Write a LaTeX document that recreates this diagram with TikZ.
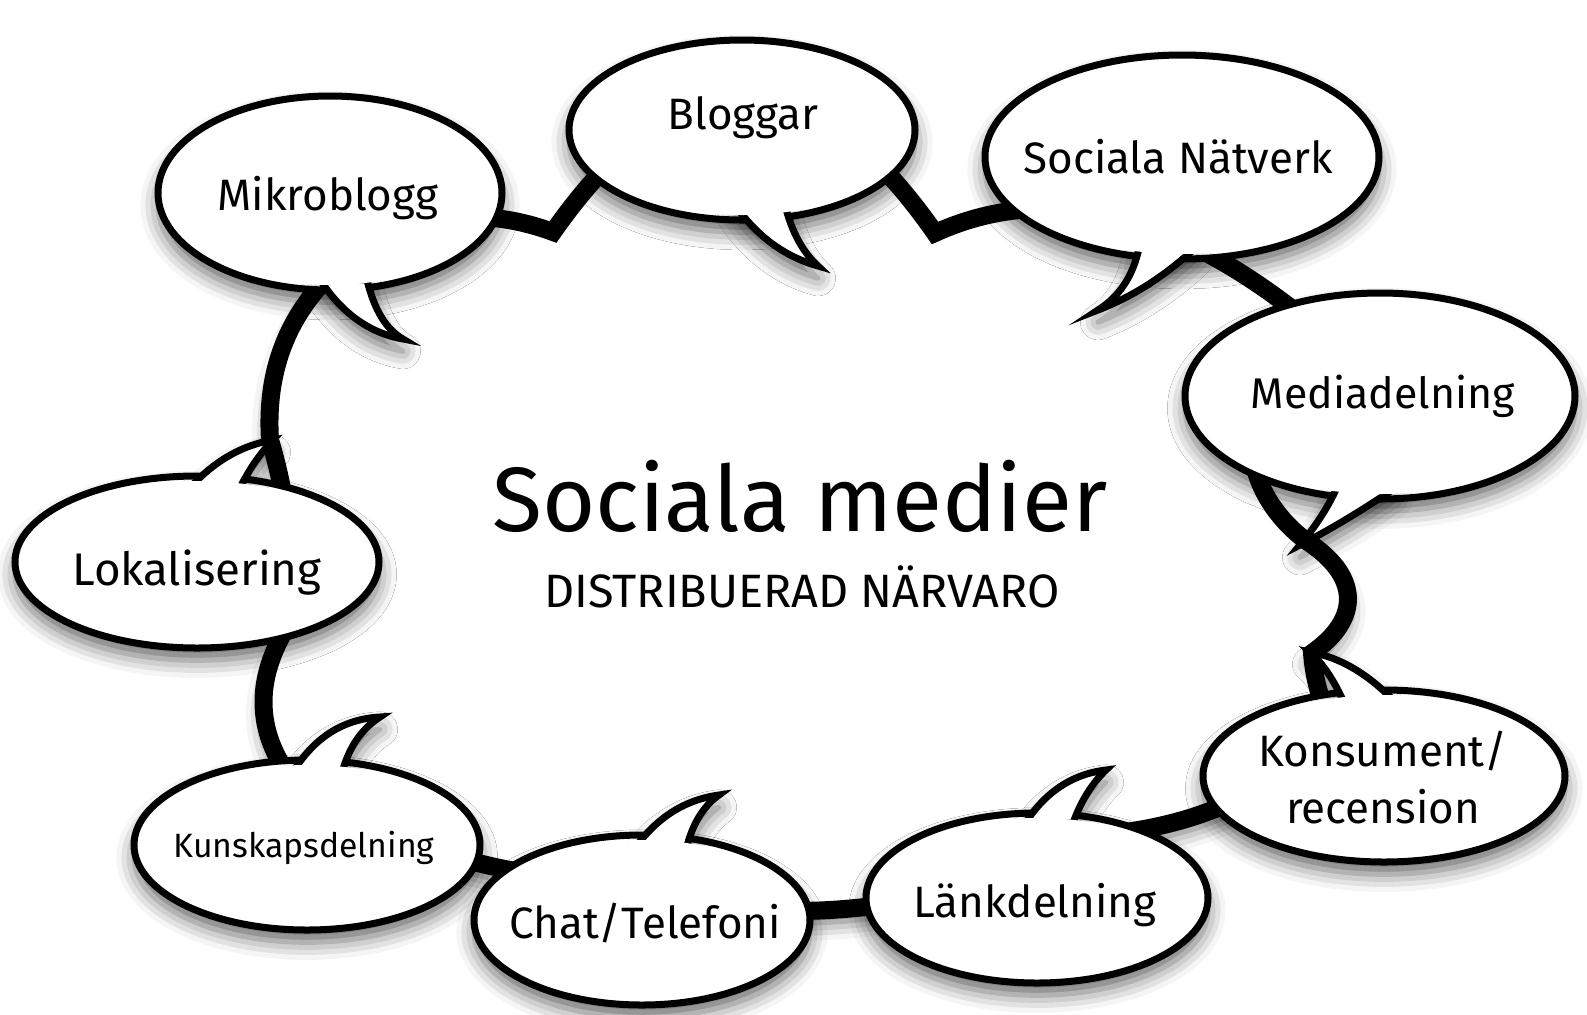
\documentclass[tikz,border=0pt]{standalone}
\usepackage{fontspec}
\setmainfont{Fira Sans}
\usetikzlibrary{calc, shadows.blur}

\tikzset{
  softshadow/.style={blur shadow={shadow xshift=0pt, shadow yshift=-3.5pt, shadow blur radius=5pt, shadow opacity=60}},
  cloudline/.style={line width=0.18cm, fill=white, softshadow},
  bubbleedge/.style={line width=0.07cm, fill=white},
  bubbletext/.style={font=\fontsize{12.5}{16}\selectfont, anchor=base, inner sep=0pt},
}

\begin{document}
\begin{tikzpicture}[x=0.01cm, y=-0.01cm]
  \useasboundingbox (0,0) rectangle (1587,1014);

  % the cloud behind the bubbles
  \draw[cloudline] (553,232) .. controls (680,51) and (808,51) .. (935,233)
    .. controls (1045,183) and (1167,210) .. (1300,315)
    .. controls (1227,405) and (1240,490) .. (1305,540)
    .. controls (1360,575) and (1362,618) .. (1312,653)
    .. controls (1314,678) and (1320,700) .. (1330,720)
    .. controls (1283,787) and (1207,825) .. (1100,835)
    .. controls (933,918) and (767,933) .. (600,880)
    .. controls (500,877) and (400,847) .. (300,790)
    .. controls (257,740) and (252,687) .. (285,630)
    .. controls (295,570) and (290,507) .. (270,440)
    .. controls (265,360) and (295,297) .. (360,250)
    .. controls (420,213) and (485,207) .. (553,232) -- cycle;

  % speech bubbles: centre, radii, tail (base, bend, tip, bend, base)
  \foreach \cx/\cy/\rx/\ry/\ax/\ay/\px/\py/\tx/\ty/\qx/\qy/\bx/\by in {
      330/193/172/97/319/278/352/330/403/339/378/325/367/280,
      742/130/173/90/735/205/768/252/818/266/795/245/785/205,
      1182/157/197/102/1139/248/1130/290/1098/310/1150/290/1195/248,
      1380/396/195/103/1338/485/1325/515/1300/545/1345/522/1395/488,
      197/562/182/86/188/490/225/448/273/440/252/462/238/492,
      307/845/173/85/293/772/325/720/380/717/352/735/342/773,
      642/920/168/85/635/848/668/802/719/795/695/812/686/850,
      1037/898/171/85/1024/825/1055/776/1106/770/1085/790/1073/823,
      1384/776/181/86/1345/705/1330/670/1310/652/1355/660/1395/702}
  {
    \fill[white, softshadow] (\cx,\cy) ellipse [x radius=\rx, y radius=\ry];
    \draw[bubbleedge] (\cx,\cy) ellipse [x radius=\rx, y radius=\ry];
    \filldraw[bubbleedge, softshadow] (\ax,\ay)
      .. controls ($(\ax,\ay)!0.667!(\px,\py)$) and ($(\tx,\ty)!0.667!(\px,\py)$) .. (\tx,\ty)
      .. controls ($(\tx,\ty)!0.667!(\qx,\qy)$) and ($(\bx,\by)!0.667!(\qx,\qy)$) .. (\bx,\by) -- cycle;
    \fill[white] (\cx,\cy) ellipse [x radius=\rx-5, y radius=\ry-5];
  }

  % labels
  \node[bubbletext] (mikro) at (328,210) {Mikroblogg};
  \node[bubbletext] (blogg) at (743,129) {Bloggar};
  \node[bubbletext] (natverk) at (1178,173) {Sociala Nätverk};
  \node[bubbletext, font=\fontsize{12.2}{16}\selectfont] (media) at (1383,408) {Mediadelning};
  \node[bubbletext, font=\fontsize{13}{16}\selectfont] (lokal) at (197,585) {Lokalisering};
  \node[bubbletext, font=\fontsize{9.6}{12}\selectfont] (kunskap) at (304,857) {Kunskapsdelning};
  \node[bubbletext] (chat) at (645,938) {Chat/Telefoni};
  \node[bubbletext] (lank) at (1035,917) {Länkdelning};
  \node[bubbletext, align=center] (konsument) at (1383,823) {Konsument/\\recension};

  \node[anchor=base, inner sep=0pt, font=\fontsize{26}{30}\selectfont] (title) at (800,531) {Sociala medier};
  \node[anchor=base, inner sep=0pt, font=\fontsize{13.3}{16}\selectfont] (subtitle) at (802,607) {DISTRIBUERAD NÄRVARO};
\end{tikzpicture}
\end{document}
